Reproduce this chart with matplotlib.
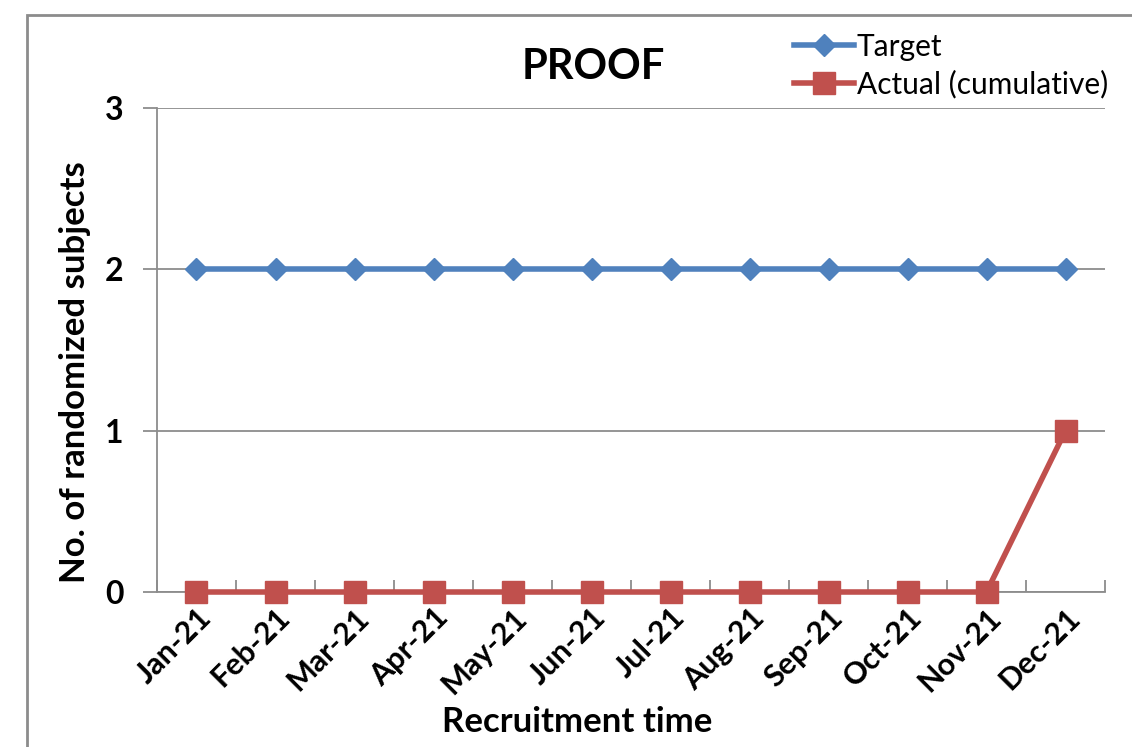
import numpy as np
import matplotlib.pyplot as plt
from matplotlib.patches import Rectangle

plt.rcParams['font.family'] = ['Lato', 'DejaVu Sans']

# data
months = ['Jan-21', 'Feb-21', 'Mar-21', 'Apr-21', 'May-21', 'Jun-21',
          'Jul-21', 'Aug-21', 'Sep-21', 'Oct-21', 'Nov-21', 'Dec-21']
target = [2, 2, 2, 2, 2, 2, 2, 2, 2, 2, 2, 2]
actual = [0, 0, 0, 0, 0, 0, 0, 0, 0, 0, 0, 1]

blue = '#4F81BD'
red = '#C0504D'

fig = plt.figure(figsize=(11.32, 7.47), dpi=100)
W, H = 1132, 747

# outer chart border (cropped at right/bottom)
fig.patches.append(Rectangle((27 / W, -0.05), 1.2, 1 - 15 / H + 0.05,
                             transform=fig.transFigure, fill=False,
                             edgecolor='#8c8c8c', linewidth=2))

ax = fig.add_axes([157 / W, 1 - 592 / H, (1105 - 157) / W, (592 - 108) / H])

x = np.arange(len(months)) + 0.5
ax.plot(x, target, color=blue, lw=4, marker='D', markersize=11, label='Target', zorder=3)
ax.plot(x, actual, color=red, lw=4, marker='s', markersize=16, label='Actual (cumulative)',
        zorder=4, clip_on=False)

ax.set_xlim(0, len(months))
ax.set_ylim(0, 3)
ax.set_yticks([0, 1, 2, 3])
ax.set_yticklabels(['0', '1', '2', '3'], fontsize=23, fontweight='bold')
ax.set_xticks(np.arange(len(months) + 1))
ax.set_xticklabels([])
ax.set_xticks(x, minor=True)
ax.set_xticklabels(months, minor=True, rotation=45, ha='right', rotation_mode='anchor',
                   fontsize=22, fontweight='bold')
ax.tick_params(axis='x', which='minor', length=0, pad=8)
ax.tick_params(axis='x', which='major', direction='in', length=9, width=1.3, color='#8c8c8c')
ax.tick_params(axis='y', direction='out', length=10, width=1.3, color='#8c8c8c', pad=14)

ax.grid(axis='y', color='#8c8c8c', lw=1.3)
ax.set_axisbelow(True)
for s in ['top', 'right']:
    ax.spines[s].set_visible(False)
for s in ['left', 'bottom']:
    ax.spines[s].set_color('#8c8c8c')
    ax.spines[s].set_linewidth(1.3)

ax.set_ylabel('No. of randomized subjects', fontsize=25, fontweight='bold', va='center')
ax.yaxis.set_label_coords((75 - 157) / 948, (592 - 372) / 484)
ax.set_xlabel('Recruitment time', fontsize=25, fontweight='bold', va='center')
ax.xaxis.set_label_coords((577 - 157) / 948, (592 - 722) / 484)

fig.text(593 / W, 1 - 67 / H, 'PROOF', fontsize=30, fontweight='bold',
         ha='center', va='center')

fig.legend(loc='upper left', bbox_to_anchor=(782 / W, 1 - 21 / H), frameon=False,
           fontsize=21.5, handlelength=2.0, handletextpad=0.1, labelspacing=0.3,
           borderaxespad=0)

fig.savefig('out.png', dpi=100)
